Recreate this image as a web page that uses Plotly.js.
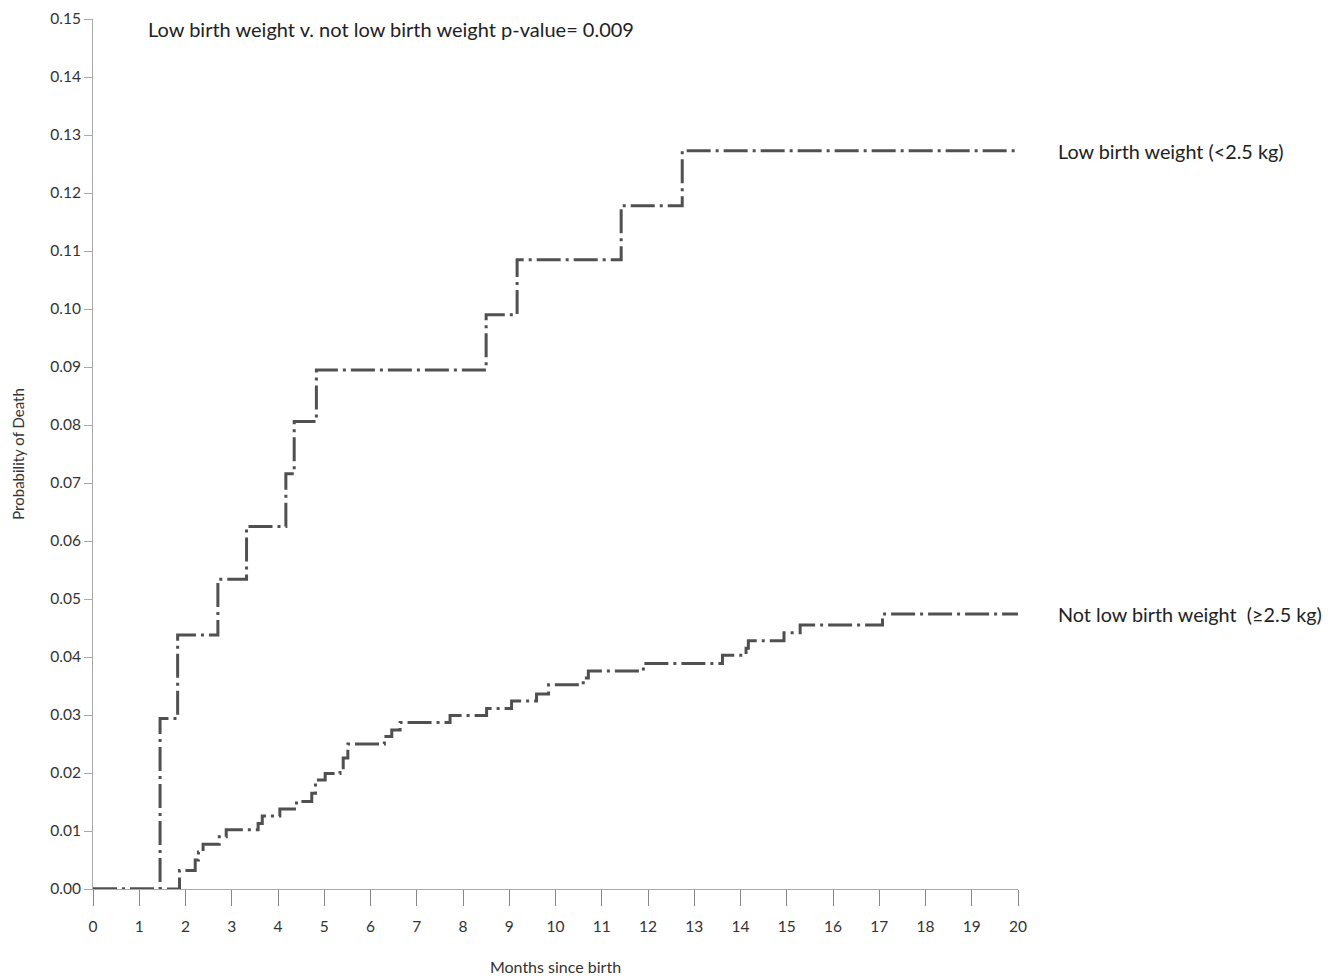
<!DOCTYPE html>
<html>
<head>
<meta charset="utf-8">
<script src="https://cdn.plot.ly/plotly-3.0.1.min.js"></script>
<style>html,body{margin:0;padding:0;background:#fff;}</style>
</head>
<body>
<div id="chart" style="width:1344px;height:979px;"></div>
<script>
// Low birth weight (<2.5 kg): step times (months) and cumulative probability of death
const lbwMonths = [0, 1.45, 1.83, 2.70, 3.32, 4.17, 4.35, 4.83, 8.50, 9.17, 11.42, 12.74, 20];
const lbwProb   = [0, 0.0294, 0.0438, 0.0534, 0.0625, 0.0716, 0.0806, 0.0895, 0.0990, 0.1085, 0.1178, 0.1273, 0.1273];

// Not low birth weight (>=2.5 kg)
const nlbwMonths = [0, 1.87, 2.21, 2.28, 2.38, 2.73, 2.88, 3.57, 3.66, 4.04, 4.40, 4.73, 4.81, 5.02, 5.34, 5.41, 5.51,
                    6.30, 6.46, 6.64, 7.72, 8.51, 9.05, 9.59, 9.85, 10.60, 10.71, 11.90, 13.61, 14.12, 14.17, 14.94, 15.29, 17.07, 20];
const nlbwProb   = [0, 0.0032, 0.0050, 0.0064, 0.0077, 0.0090, 0.0102, 0.0113, 0.0126, 0.0138, 0.0151, 0.0165, 0.0188, 0.0199, 0.0209, 0.0226, 0.0250,
                    0.0263, 0.0274, 0.0287, 0.0299, 0.0311, 0.0324, 0.0336, 0.0352, 0.0364, 0.0376, 0.0389, 0.0403, 0.0415, 0.0428, 0.0442, 0.0455, 0.0474, 0.0474];

const seriesNames = ["Low birth weight (<2.5 kg)", "Not low birth weight  (≥2.5 kg)"];
const xTicks = [0,1,2,3,4,5,6,7,8,9,10,11,12,13,14,15,16,17,18,19,20];
const yTicks = [0,0.01,0.02,0.03,0.04,0.05,0.06,0.07,0.08,0.09,0.10,0.11,0.12,0.13,0.14,0.15];

const lineStyle = {color: '#505050', width: 3, dash: '24px,5px,3px,5px', shape: 'hv'};

const traces = [
  {x: lbwMonths, y: lbwProb, mode: 'lines', line: lineStyle, name: seriesNames[0], cliponaxis: false, hoverinfo: 'x+y'},
  {x: nlbwMonths, y: nlbwProb, mode: 'lines', line: lineStyle, name: seriesNames[1], cliponaxis: false, hoverinfo: 'x+y'}
];

const fam = 'Lato, "Open Sans", sans-serif';
const tickFont = {family: fam, size: 15.5, color: '#333'};

const layout = {
  width: 1344, height: 979,
  margin: {l: 93, r: 326, t: 19, b: 90},
  paper_bgcolor: '#fff', plot_bgcolor: '#fff',
  showlegend: false,
  font: tickFont,
  xaxis: {
    range: [0, 20], tickvals: xTicks, ticktext: xTicks.map(String),
    showgrid: false, zeroline: false, showline: true, linecolor: '#aaa', linewidth: 1,
    ticks: 'outside', ticklen: 16, tickcolor: '#888', tickwidth: 1,
    ticklabelstandoff: 7,
    tickfont: tickFont,
    title: {text: 'Months since birth', font: {family: fam, size: 16, color: '#333'}, standoff: 28},
    automargin: false
  },
  yaxis: {
    range: [0, 0.15], tickvals: yTicks, ticktext: yTicks.map(v => v.toFixed(2)),
    showgrid: false, zeroline: false, showline: true, linecolor: '#aaa', linewidth: 1,
    ticks: 'outside', ticklen: 8, tickcolor: '#aaa', tickwidth: 1,
    tickfont: tickFont,
    title: {text: 'Probability of Death', font: {family: fam, size: 15, color: '#333'}, standoff: 22},
    automargin: false
  },
  annotations: [
    {xref: 'paper', yref: 'paper', x: 0.0573, y: 0.989, xanchor: 'left', yanchor: 'middle', showarrow: false,
     text: 'Low birth weight v. not low birth weight p-value= 0.009',
     font: {family: fam, size: 20, color: '#222'}},
    {xref: 'paper', yref: 'y', x: 1.0411, y: lbwProb[lbwProb.length-1], xanchor: 'left', yanchor: 'middle', showarrow: false,
     text: seriesNames[0], font: {family: fam, size: 19.8, color: '#222'}},
    {xref: 'paper', yref: 'y', x: 1.0411, y: nlbwProb[nlbwProb.length-1], xanchor: 'left', yanchor: 'middle', showarrow: false,
     text: seriesNames[1], font: {family: fam, size: 19.8, color: '#222'}}
  ]
};

Plotly.newPlot('chart', traces, layout, {displayModeBar: false, staticPlot: true});
</script>
</body>
</html>
